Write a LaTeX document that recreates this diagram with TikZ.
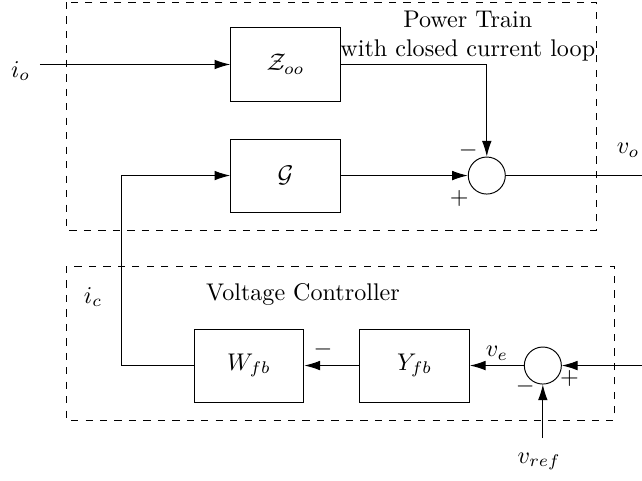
\documentclass[tikz,border=0pt]{standalone}
\usepackage{amsmath,amssymb}
\usepackage{tikz}
\usetikzlibrary{positioning, arrows.meta}

\begin{document}
\begin{tikzpicture}[
    node distance=0.8cm,
    block/.style={rectangle, draw, minimum width=1.6cm, minimum height=1.065cm},
    sum/.style={circle, draw, minimum size=0.54cm, inner sep=0pt},
    arrow/.style={-{Latex[length=6.5pt,width=4pt]}},
    group/.style={draw, dashed}
  ]
    \useasboundingbox (0,0) rectangle (9.36,-7.0);

    % power train
    \node[block] (zoo) at (4.163,-0.94) {$\mathcal{Z}_{oo}$};
    \node[block, below=0.54cm of zoo] (gain) {$\mathcal{G}$};
    \node[sum, right=1.85cm of gain] (sum1) {};
    \draw[group] (0.962,-0.029) rectangle (8.690,-3.353);
    \node[align=center] (ptlab) at (6.82,-0.53) {Power Train\\with closed current loop};

    % voltage controller
    \node[block] (wfb) at (3.630,-5.329) {$W_{fb}$};
    \node[block, right=of wfb] (yfb) {$Y_{fb}$};
    \node[sum, right=0.786cm of yfb] (sum2) {};
    \draw[group] (0.962,-3.878) rectangle (8.952,-6.124);
    \node (vclab) at (4.418,-4.30) {Voltage Controller};

    \coordinate (in1) at (0.583,-0.94);
    \coordinate (out1) at (9.36,-2.544);
    \coordinate (in2) at (9.36,-5.329);
    \coordinate (in3) at (7.886,-6.386);
    \coordinate (fb) at (1.774,-5.329);

    \node (iolab) at (0.30,-1.035) {$i_o$};
    \node (volab) at (9.156,-2.187) {$v_o$};
    \node (iclab) at (1.356,-4.33) {$i_c$};
    \node (vreflab) at (7.86,-6.73) {$v_{ref}$};

    \node (m1) at ([shift={(-0.27,0.36)}]sum1) {$-$};
    \node (p1) at ([shift={(-0.40,-0.34)}]sum1) {$+$};
    \node (p2) at ([shift={(0.39,-0.19)}]sum2) {$+$};
    \node (m2) at ([shift={(-0.255,-0.31)}]sum2) {$-$};

    \draw[arrow] (in1) -- (zoo);
    \draw[arrow] (zoo) -| (sum1);
    \draw[arrow] (gain) -- (sum1);
    \draw (sum1) -- (sum1 -| out1);
    \draw[arrow] (in2 |- sum2) -- (sum2);
    \draw[arrow] (sum2 |- in3) -- (sum2);
    \draw[arrow] (sum2) -- node[above, inner sep=2pt] (velab) {$v_e$} (yfb);
    \draw[arrow] (yfb) -- node[pos=0.66, above] (m3) {$-$} (wfb);
    \draw[arrow] (wfb) -- (fb |- wfb) |- (gain);
  \end{tikzpicture}
\end{document}
